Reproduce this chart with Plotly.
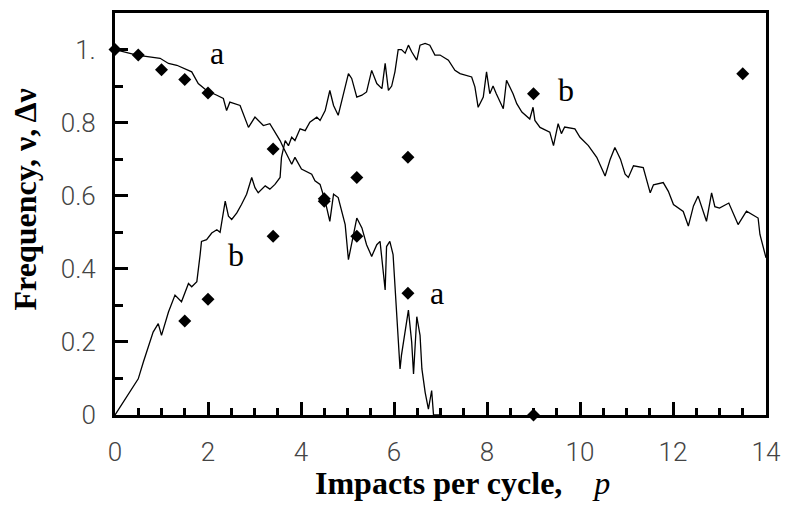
import plotly.graph_objects as go

# Curve a (solid line, decreasing)
a_line_x = [0, 0.47, 0.97, 1.15, 1.33, 1.65, 1.79, 1.97, 2.19, 2.33, 2.40, 2.47, 2.69, 2.87,
            3.01, 3.19, 3.33, 3.44, 3.55, 3.62, 3.73, 3.80, 3.87, 4.01, 4.23, 4.30, 4.41,
            4.52, 4.62, 4.70, 4.80, 4.95, 5.02, 5.09, 5.20, 5.31, 5.41, 5.52, 5.63, 5.70,
            5.77, 5.81, 5.84, 5.91, 5.98, 6.02, 6.09, 6.13, 6.16, 6.24, 6.31, 6.38, 6.42,
            6.49, 6.56, 6.60, 6.67, 6.74, 6.81, 6.85, 7.0]
a_line_y = [1.0, 0.985, 0.976, 0.962, 0.957, 0.939, 0.907, 0.888, 0.875, 0.866, 0.833, 0.856,
            0.847, 0.787, 0.815, 0.792, 0.797, 0.774, 0.751, 0.732, 0.705, 0.686, 0.705,
            0.673, 0.659, 0.641, 0.631, 0.585, 0.530, 0.604, 0.595, 0.521, 0.425, 0.466,
            0.539, 0.512, 0.466, 0.434, 0.466, 0.475, 0.383, 0.342, 0.461, 0.475, 0.439,
            0.356, 0.200, 0.126, 0.163, 0.236, 0.287, 0.200, 0.112, 0.269, 0.218, 0.126,
            0.062, 0.016, 0.067, 0.0, 0.0]

# Curve b (solid line, rising then falling)
b_line_x = [0, 0.5, 0.61, 0.82, 0.93, 1.0, 1.15, 1.29, 1.43, 1.58, 1.65, 1.76, 1.83, 1.86,
            1.97, 2.08, 2.19, 2.26, 2.37, 2.44, 2.51, 2.62, 2.72, 2.83, 2.94, 3.01, 3.08,
            3.23, 3.33, 3.44, 3.55, 3.58, 3.66, 3.73, 3.80, 3.87, 3.98, 4.09, 4.19, 4.34,
            4.41, 4.52, 4.62, 4.70, 4.80, 4.91, 5.02, 5.09, 5.20, 5.31, 5.41, 5.52, 5.63,
            5.74, 5.81, 5.88, 5.95, 6.02, 6.09, 6.16, 6.24, 6.31, 6.38, 6.49, 6.56, 6.67,
            6.77, 6.88, 6.99, 7.17, 7.31, 7.42, 7.56, 7.67, 7.74, 7.81, 7.92, 7.99, 8.06,
            8.13, 8.20, 8.35, 8.42, 8.56, 8.64, 8.75, 8.92, 8.99, 9.03, 9.14, 9.35, 9.43,
            9.53, 9.60, 9.67, 9.89, 10.0, 10.11, 10.18, 10.36, 10.54, 10.65, 10.75, 10.87,
            10.97, 11.04, 11.15, 11.36, 11.51, 11.58, 11.79, 11.90, 12.01, 12.22, 12.33,
            12.44, 12.54, 12.72, 12.83, 12.90, 13.0, 13.2, 13.4, 13.58, 13.69, 13.83, 13.87,
            13.94, 14.0]
b_line_y = [0.0, 0.099, 0.145, 0.227, 0.250, 0.218, 0.282, 0.328, 0.310, 0.360, 0.351, 0.365,
            0.438, 0.475, 0.480, 0.498, 0.507, 0.500, 0.585, 0.544, 0.535, 0.553, 0.576,
            0.604, 0.650, 0.622, 0.608, 0.627, 0.618, 0.631, 0.650, 0.705, 0.751, 0.737,
            0.760, 0.751, 0.783, 0.778, 0.801, 0.815, 0.806, 0.833, 0.888, 0.847, 0.820,
            0.879, 0.934, 0.921, 0.870, 0.875, 0.884, 0.943, 0.907, 0.893, 0.962, 0.888,
            0.900, 0.939, 1.000, 1.000, 0.990, 1.012, 0.994, 0.971, 1.012, 1.017, 1.012,
            0.985, 0.985, 0.971, 0.943, 0.934, 0.930, 0.925, 0.898, 0.842, 0.870, 0.939,
            0.879, 0.900, 0.879, 0.838, 0.916, 0.879, 0.852, 0.829, 0.810, 0.842, 0.806,
            0.787, 0.774, 0.737, 0.797, 0.770, 0.788, 0.783, 0.760, 0.747, 0.737, 0.705,
            0.654, 0.700, 0.732, 0.700, 0.659, 0.650, 0.682, 0.677, 0.608, 0.630, 0.636,
            0.612, 0.576, 0.557, 0.517, 0.572, 0.599, 0.530, 0.608, 0.570, 0.566, 0.580,
            0.521, 0.558, 0.549, 0.539, 0.494, 0.457, 0.430]

# Point data (diamonds)
a_pts_x = [0, 0.5, 1.0, 1.5, 2.0, 3.4, 4.5, 5.2, 6.3, 9.0]
a_pts_y = [1.0, 0.985, 0.945, 0.918, 0.881, 0.728, 0.585, 0.489, 0.333, 0.0]
b_pts_x = [1.5, 2.0, 3.4, 4.5, 5.2, 6.3, 9.0, 13.5]
b_pts_y = [0.257, 0.317, 0.489, 0.592, 0.650, 0.705, 0.879, 0.934]

# Curve labels
label_text = ["a", "b", "b", "a"]
label_x = [2.19, 9.70, 2.60, 6.92]
label_y = [0.99, 0.888, 0.438, 0.333]

# Axis ticks
x_tickvals = [0, 2, 4, 6, 8, 10, 12, 14]
y_tickvals = [0, 0.2, 0.4, 0.6, 0.8, 1.0]
y_ticktext = ["0", "0.2", "0.4", "0.6", "0.8", "1."]

fig = go.Figure()
for lx, ly in [(a_line_x, a_line_y), (b_line_x, b_line_y)]:
    fig.add_trace(go.Scatter(x=lx, y=ly, mode="lines",
                             line=dict(color="black", width=1.3),
                             showlegend=False, hoverinfo="skip"))
for px, py in [(a_pts_x, a_pts_y), (b_pts_x, b_pts_y)]:
    fig.add_trace(go.Scatter(x=px, y=py, mode="markers",
                             marker=dict(symbol="diamond", size=10, color="black"),
                             cliponaxis=False, showlegend=False))

for t, x, y in zip(label_text, label_x, label_y):
    fig.add_annotation(x=x, y=y, text=t, showarrow=False, xanchor="center", yanchor="middle",
                       font=dict(family="Liberation Serif", size=32, color="black"))

nb = "\u00a0"
fig.add_annotation(xref="paper", yref="paper", x=0.534, y=-0.168,
                   text="<b>Impacts per cycle,</b>" + nb * 4 + "<i>p</i>",
                   showarrow=False, xanchor="center", yanchor="middle",
                   font=dict(family="Liberation Serif", size=32, color="black"))
fig.add_annotation(xref="paper", yref="paper", x=-0.139, y=0.535,
                   text="<b>Frequency, ν, Δν</b>", textangle=-90,
                   showarrow=False, xanchor="center", yanchor="middle",
                   font=dict(family="Liberation Serif", size=32, color="black"))

tickfont = dict(family="Roboto", size=26, color="#444444", weight=300)
fig.update_xaxes(range=[0, 14], tickvals=x_tickvals, ticks="inside", ticklen=13, tickwidth=3,
                 tickcolor="black", showline=True, linecolor="black", linewidth=3, mirror=True,
                 showgrid=False, zeroline=False, tickfont=tickfont, ticklabelstandoff=12,
                 automargin=False,
                 minor=dict(dtick=0.5, ticks="inside", ticklen=7, tickwidth=3,
                            tickcolor="black", showgrid=False))
fig.update_yaxes(range=[0, 1.1], tickvals=y_tickvals, ticktext=y_ticktext, ticks="inside",
                 ticklen=13, tickwidth=3, tickcolor="black", showline=True, linecolor="black",
                 linewidth=3, mirror=True, showgrid=False, zeroline=False, tickfont=tickfont,
                 ticklabelstandoff=11, automargin=False,
                 minor=dict(tickvals=[0.1, 0.3, 0.5, 0.7, 0.9], ticks="inside", ticklen=8,
                            tickwidth=3, tickcolor="black", showgrid=False))
fig.update_layout(width=786, height=509, margin=dict(l=115, r=20, t=13, b=94),
                  plot_bgcolor="white", paper_bgcolor="white")
fig.write_html("out.html", config={"displayModeBar": False},
               post_script="document.body.style.margin='0';document.body.style.overflow='hidden';")
